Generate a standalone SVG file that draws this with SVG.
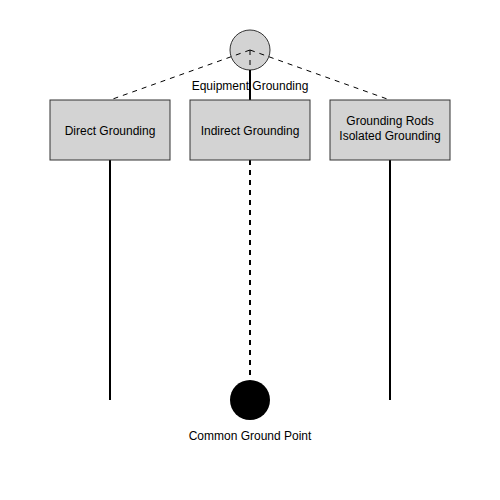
<svg xmlns="http://www.w3.org/2000/svg" width="500" height="500" viewBox="0 0 500 500">
<style>
.box{fill:#d3d3d3;stroke:#333;stroke-width:1}
.t{font-family:"Liberation Sans",Arial,sans-serif;font-size:12px;fill:#000;text-anchor:middle}
.solid{stroke:#000;stroke-width:2;fill:none}
.dash{stroke:#000;stroke-width:1;stroke-dasharray:5,5;fill:none}
.dash2{stroke:#000;stroke-width:2;stroke-dasharray:5,5;fill:none}
</style>
<rect width="500" height="500" fill="#fff"/>
<g id="equipment-grounding">
<circle cx="250" cy="50" r="20" fill="#d3d3d3" stroke="#333" stroke-width="1"/>
<text class="t" x="250" y="90">Equipment Grounding</text>
</g>
<g id="connectors">
<line class="solid" x1="250" y1="70" x2="250" y2="100"/>
<line class="dash" x1="250" y1="50" x2="110" y2="100"/>
<line class="dash" x1="250" y1="50" x2="390" y2="100"/>
<line class="dash" x1="250" y1="50" x2="250" y2="70"/>
<line class="solid" x1="110" y1="160" x2="110" y2="400"/>
<line class="solid" x1="390" y1="160" x2="390" y2="400"/>
<line class="dash2" x1="250" y1="160" x2="250" y2="380"/>
</g>
<g id="direct-grounding">
<rect class="box" x="50" y="100" width="120" height="60"/>
<text class="t" x="110" y="135">Direct Grounding</text>
</g>
<g id="indirect-grounding">
<rect class="box" x="190" y="100" width="120" height="60"/>
<text class="t" x="250" y="135">Indirect Grounding</text>
</g>
<g id="isolated-grounding">
<rect class="box" x="330" y="100" width="120" height="60"/>
<text class="t" x="390" y="125">Grounding Rods</text>
<text class="t" x="390" y="140">Isolated Grounding</text>
</g>
<g id="common-ground-point">
<circle cx="250" cy="400" r="20" fill="#000"/>
<text class="t" x="250" y="440">Common Ground Point</text>
</g>
</svg>
